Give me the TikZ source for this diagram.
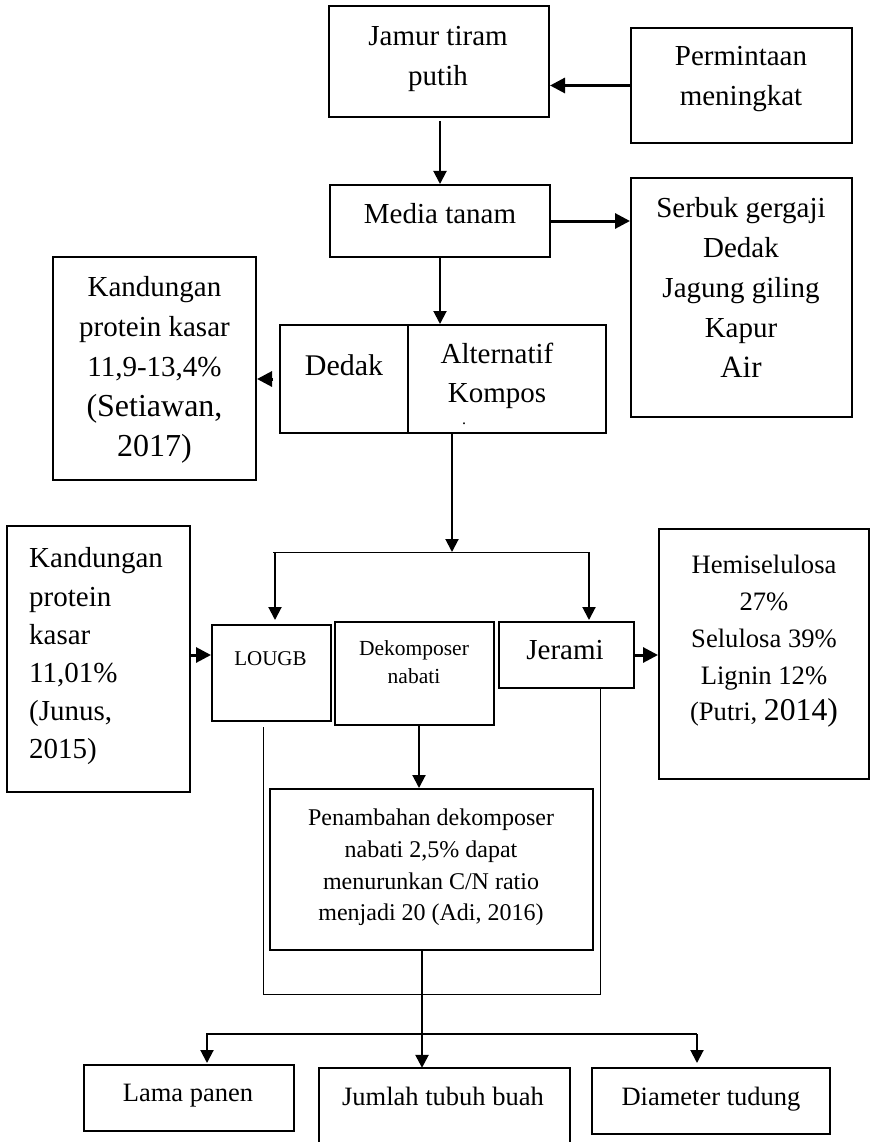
\documentclass[tikz,border=0pt]{standalone}
\usepackage{fontspec}
\setmainfont{Liberation Serif}
\usetikzlibrary{arrows.meta}
\newcommand\fs[2]{\fontsize{#1}{#2}\selectfont}
\begin{document}
\begin{tikzpicture}[x=1pt,y=-1pt,
  box/.style={draw,line width=2pt,inner sep=0pt},
  txt/.style={inner sep=0pt,align=center},
  one/.style={inner sep=0pt,anchor=base},
  arr/.style={-{Triangle[length=13pt,width=13pt]},line width=2pt},
  bigarr/.style={-{Triangle[length=15pt,width=15pt]},line width=3pt},
  thinln/.style={line width=1pt}]
\fill[white] (0,0) rectangle (871,1142);
\useasboundingbox (0,0) rectangle (871,1142);

% boxes
\node[box,minimum width=220pt,minimum height=111pt] (jamur) at (439,61.5) {};
\node[box,minimum width=221pt,minimum height=115pt] (perm) at (741.5,85.5) {};
\node[box,minimum width=220pt,minimum height=72pt] (media) at (440,221) {};
\node[box,minimum width=221pt,minimum height=239pt] (serbuk) at (741.5,297.5) {};
\node[box,minimum width=203pt,minimum height=223pt] (kand1) at (154.5,368.5) {};
\node[box,minimum width=128pt,minimum height=108pt] (dedak) at (344,379) {};
\node[box,minimum width=198pt,minimum height=108pt] (alt) at (507,379) {};
\node[box,minimum width=183pt,minimum height=266pt] (kand2) at (98.5,659) {};
\node[box,minimum width=210pt,minimum height=250pt] (hemi) at (764,654) {};
\node[box,minimum width=119pt,minimum height=96pt] (lougb) at (271.5,673) {};
\node[box,minimum width=159pt,minimum height=103pt] (dekomp) at (414.5,673.5) {};
\node[box,minimum width=135pt,minimum height=66pt] (jerami) at (566.5,655) {};
\node[box,minimum width=323pt,minimum height=161pt] (penamb) at (431.5,869.5) {};
\node[box,minimum width=210pt,minimum height=66pt] (lama) at (189,1098) {};
\node[inner sep=0pt,minimum width=251pt,minimum height=76pt] (jumlah) at (444.5,1106) {};
\draw[line width=2pt] (jumlah.south west) -- (jumlah.north west) -- (jumlah.north east) -- (jumlah.south east);
\node[box,minimum width=238pt,minimum height=66pt] (diam) at (711,1101) {};

% texts
\node[txt,font=\fs{29}{40}] (tjamur) at (438,59) {Jamur tiram\\putih};
\node[txt,font=\fs{29}{40}] (tperm) at (741,79) {Permintaan\\meningkat};
\node[one,font=\fs{29}{40}] (tmedia) at (440,223) {Media tanam};
\node[txt,font=\fs{29}{40}] (tserbuk) at (741,287) {Serbuk gergaji\\Dedak\\Jagung giling\\Kapur\\{\fs{31}{40}Air}};
\node[txt,font=\fs{29}{40}] (tkand1) at (154.5,369.5) {Kandungan\\protein kasar\\11,9-13,4\%\\{\fs{32}{42}(Setiawan,}\\{\fs{32}{40}2017)}};
\node[one,font=\fs{30}{40}] (tdedak) at (344,375) {Dedak};
\node[txt,font=\fs{29}{39}] (talt) at (497,375.5) {Alternatif\\Kompos};
\node[inner sep=0pt,font=\fs{16}{16}] (tdot) at (464,424) {.};
\node[txt,align=left,anchor=west,font=\fs{29}{38.2}] (tkand2) at (29,656.5) {Kandungan\\protein\\kasar\\11,01\%\\(Junus,\\2015)};
\node[txt,font=\fs{26.6}{36.7}] (themi) at (764,641.5) {Hemiselulosa\\27\%\\Selulosa 39\%\\Lignin 12\%\\(Putri, {\fs{31.7}{36.7}2014)}};
\node[one,font=\fs{21}{28}] (tlougb) at (270.5,665) {LOUGB};
\node[txt,font=\fs{21.5}{28}] (tdekomp) at (414,662) {Dekomposer\\nabati};
\node[one,font=\fs{29}{40}] (tjerami) at (565,659) {Jerami};
\node[txt,font=\fs{24}{31.7}] (tpenamb) at (431,867.5) {Penambahan dekomposer\\nabati 2,5\% dapat\\menurunkan C/N ratio\\menjadi 20 (Adi, 2016)};
\node[one,font=\fs{26.5}{34}] (tlama) at (188,1101.5) {Lama panen};
\node[one,font=\fs{26.5}{34}] (tjumlah) at (443,1105) {Jumlah tubuh buah};
\node[one,font=\fs{26.5}{34}] (tdiam) at (711,1105) {Diameter tudung};

% connectors
\draw[bigarr] (perm.west) -- (perm.west -| jamur.east);
\coordinate (jm) at (440,121);
\draw[arr] (jm) -- (jm |- media.north);
\draw[bigarr] (media.east) -- (serbuk.west |- media.east);
\draw[arr] (media.south) -- (media.south |- dedak.north);
\draw[bigarr] ([xshift=-6pt]dedak.west) -- (kand1.east |- dedak.west);

\coordinate (altout) at (452,433);
\coordinate (hl) at (273,552);
\coordinate (hr) at (589,552);
\coordinate (dl) at (275,620);
\coordinate (dr) at (589,620);
\draw[arr] (altout) -- (altout |- hl);
\draw[thinln] (hl) -- (hr);
\draw[arr] (dl |- hl) -- (dl);
\draw[arr] (hr) -- (dr);

\draw[bigarr] (kand2.east |- jerami.west) -- (lougb.west |- jerami.west);
\draw[bigarr] (jerami.east) -- (hemi.west |- jerami.east);

\coordinate (dko) at (419,725);
\draw[arr] (dko) -- (dko |- penamb.north);

\coordinate (lb) at (263,727);
\coordinate (rb) at (600,994);
\coordinate (jb) at (600,689);
\draw[thinln] (lb) |- (rb) -- (jb);

\coordinate (pno) at (422,950);
\draw[-{Triangle[length=13pt,width=13pt]},line width=2.5pt] (pno) -- (pno |- jumlah.north);

\coordinate (bl) at (206,1034);
\coordinate (br) at (697,1034);
\coordinate (al) at (207,1063);
\coordinate (ar) at (697,1063);
\draw[line width=1.5pt] (bl) -- (br);
\draw[arr] (al |- bl) -- (al);
\draw[arr] (br) -- (ar);
\end{tikzpicture}
\end{document}
